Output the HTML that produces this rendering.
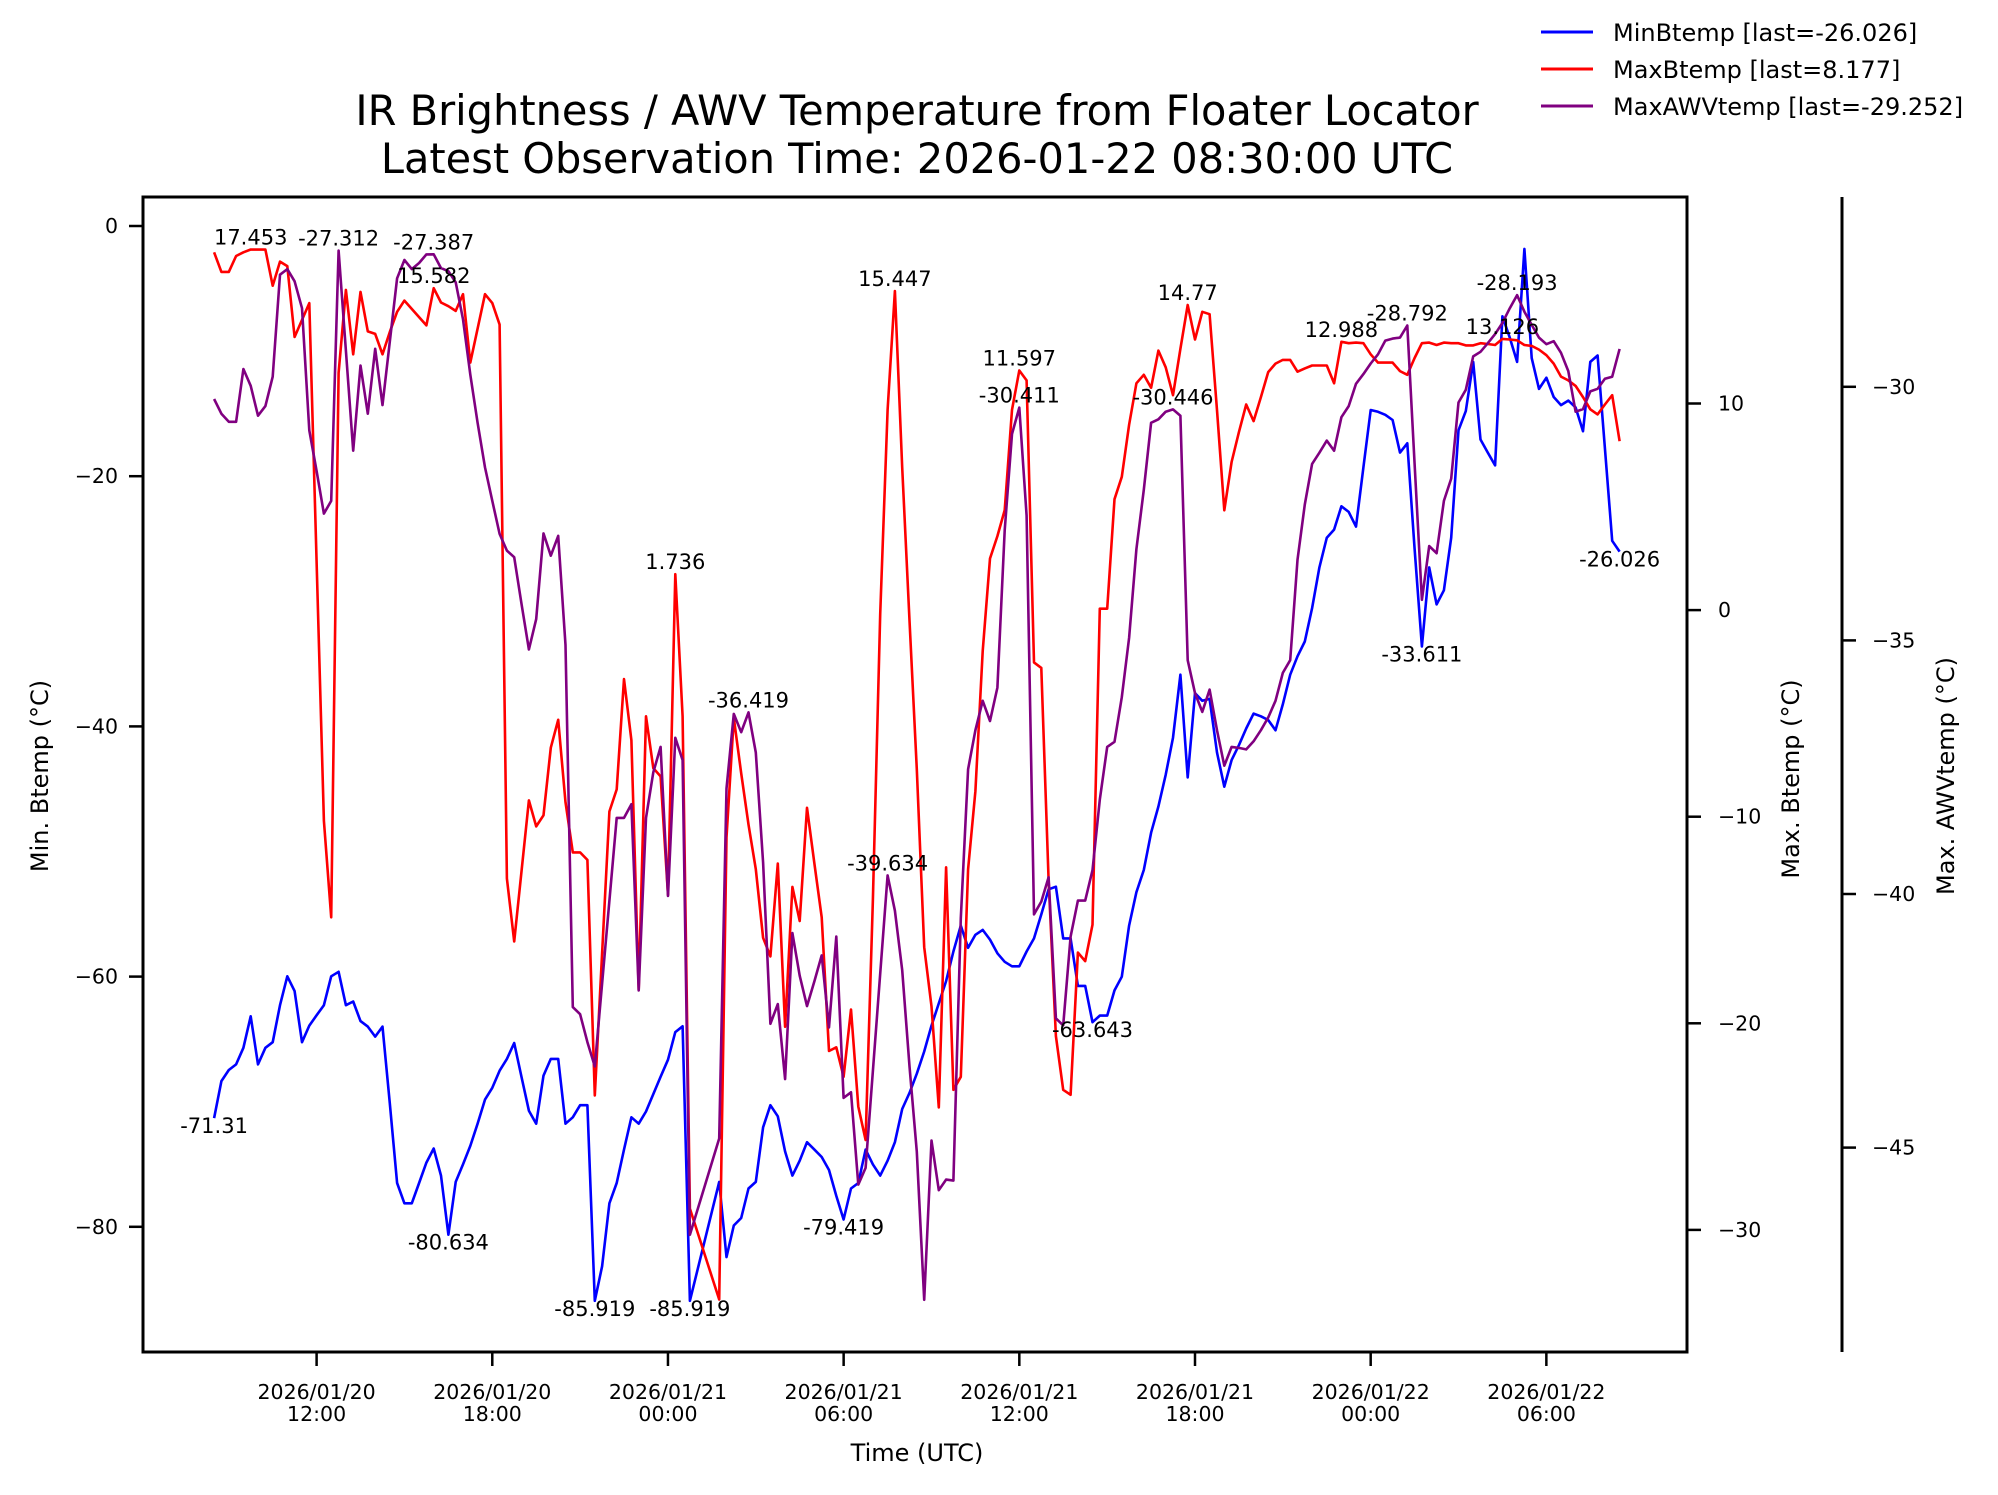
<!DOCTYPE html>
<html><head><meta charset="utf-8"><title>IR Brightness / AWV Temperature</title>
<style>
html,body{margin:0;padding:0;background:#fff;}
svg{display:block;font-family:"DejaVu Sans","Liberation Sans",sans-serif;}
</style></head>
<body>
<svg id="chart" xmlns="http://www.w3.org/2000/svg" width="1998" height="1495" viewBox="0 0 1998 1495">
<rect x="0" y="0" width="1998" height="1495" fill="#fff"/>
<g font-size="41.5" text-anchor="middle" fill="#000">
<text x="917" y="125">IR Brightness / AWV Temperature from Floater Locator</text>
<text x="917" y="173">Latest Observation Time: 2026-01-22 08:30:00 UTC</text>
</g>
<g id="series"></g>
<g id="annots" font-size="21" text-anchor="middle" fill="#000"></g>
<g id="axes"></g>
<g font-size="24" fill="#000">
<g><line x1="1541" y1="32" x2="1593" y2="32" stroke="#0000ff" stroke-width="3"/><text x="1613" y="41">MinBtemp [last=-26.026]</text></g>
<g><line x1="1541" y1="69" x2="1593" y2="69" stroke="#ff0000" stroke-width="3"/><text x="1613" y="78">MaxBtemp [last=8.177]</text></g>
<g><line x1="1541" y1="106" x2="1593" y2="106" stroke="#800080" stroke-width="3"/><text x="1613" y="115">MaxAWVtemp [last=-29.252]</text></g>
</g>
</svg>
<script>
// Observation slots: 15-minute steps starting 2026-01-20 08:30 UTC (slot 0)
const startHour = 8.5;
const minSlot = [0,1,2,3,4,5,6,7,8,9,10,11,12,13,14,15,16,17,18,19,20,21,22,23,24,25,26,27,28,29,30,31,32,33,34,35,36,37,38,39,40,41,42,43,44,45,46,47,48,49,50,51,52,53,54,55,56,57,58,59,60,61,62,63,64,65,69,70,71,72,73,74,75,76,77,78,79,80,81,82,83,84,85,86,87,88,89,90,91,92,93,94,95,96,97,98,99,100,101,102,103,104,105,106,107,108,109,110,111,112,113,114,115,116,117,118,119,120,121,122,123,124,125,126,127,128,129,130,131,132,133,134,135,136,137,138,139,140,141,142,143,144,145,146,147,148,149,150,151,152,153,154,155,156,157,158,159,160,161,162,163,164,165,166,167,168,169,170,171,172,173,174,175,176,177,178,179,180,181,182,183,184,185,186,187,188,189,191,192];
const minVal = [-71.31,-68.35,-67.47,-67.02,-65.69,-63.17,-67.02,-65.69,-65.24,-62.29,-59.98,-61.16,-65.24,-63.92,-63.09,-62.29,-59.98,-59.62,-62.29,-61.99,-63.56,-64.0,-64.8,-64.0,-70.13,-76.5,-78.12,-78.12,-76.5,-74.87,-73.74,-75.91,-80.634,-76.41,-75.01,-73.53,-71.76,-69.83,-68.89,-67.52,-66.58,-65.31,-68.06,-70.72,-71.76,-67.91,-66.58,-66.58,-71.76,-71.25,-70.28,-70.28,-85.919,-83.16,-78.12,-76.5,-73.83,-71.25,-71.76,-70.78,-69.39,-68.0,-66.64,-64.44,-63.97,-85.919,-76.41,-82.42,-79.9,-79.3,-76.94,-76.41,-72.05,-70.28,-71.17,-73.98,-75.91,-74.72,-73.24,-73.83,-74.42,-75.46,-77.53,-79.419,-76.94,-76.5,-73.83,-75.01,-75.91,-74.72,-73.24,-70.58,-69.3,-67.76,-65.99,-63.92,-62.14,-60.36,-57.99,-55.92,-57.7,-56.66,-56.27,-57.04,-58.14,-58.82,-59.18,-59.18,-57.99,-56.95,-55.03,-53.02,-52.81,-56.95,-56.95,-60.74,-60.74,-63.643,-63.12,-63.12,-61.1,-60.01,-55.92,-53.25,-51.48,-48.5,-46.4,-43.87,-40.9,-35.87,-44.08,-37.35,-37.95,-37.8,-42.09,-44.82,-42.69,-41.5,-40.17,-38.98,-39.19,-39.49,-40.31,-38.24,-35.87,-34.4,-33.21,-30.54,-27.29,-24.92,-24.27,-22.41,-22.85,-24.03,-19.3,-14.71,-14.85,-15.09,-15.51,-18.11,-17.37,-25.81,-33.611,-27.29,-30.25,-29.12,-24.92,-16.33,-14.8,-10.86,-17.07,-18.11,-19.14,-7.22,-8.93,-10.86,-1.83,-10.56,-13.02,-12.13,-13.67,-14.32,-13.96,-14.5,-16.4,-10.86,-10.35,-25.16,-26.026];
const maxSlot = [0,1,2,3,4,5,6,7,8,9,10,11,13,15,16,17,18,19,20,21,22,23,24,25,26,29,30,31,32,33,34,35,37,38,39,40,41,43,44,45,46,47,48,49,50,51,52,54,55,56,57,58,59,60,61,62,63,64,65,69,70,71,72,73,74,75,76,77,78,79,80,81,82,83,84,85,86,87,88,89,90,91,92,93,94,95,96,97,98,99,100,101,102,103,104,105,106,107,108,109,110,111,112,113,114,115,116,117,118,119,120,121,122,123,124,125,126,127,128,129,130,131,132,133,134,135,136,137,138,139,140,141,142,143,144,145,146,147,148,149,150,151,152,153,154,155,156,157,158,159,160,161,162,163,164,165,166,167,168,169,170,171,172,173,174,175,176,177,178,179,180,181,182,183,184,185,186,187,188,189,190,191,192];
const maxVal = [17.32,16.37,16.37,17.14,17.32,17.453,17.45,17.45,15.7,16.87,16.65,13.22,14.86,-10.2,-14.87,11.48,15.5,12.38,15.4,13.49,13.37,12.38,13.46,14.44,14.98,13.78,15.582,14.89,14.71,14.48,15.29,11.98,15.29,14.86,13.82,-12.99,-16.04,-9.21,-10.47,-9.93,-6.66,-5.31,-9.3,-11.73,-11.73,-12.09,-23.49,-9.75,-8.68,-3.34,-6.3,-18.38,-5.14,-7.65,-8.05,-13.79,1.736,-5.14,-28.97,-33.37,-11.0,-5.22,-7.9,-10.38,-12.54,-15.86,-16.76,-12.27,-20.17,-13.4,-15.05,-9.57,-12.27,-14.87,-21.34,-21.16,-22.59,-19.33,-24.03,-25.65,-14.0,-0.2,9.69,15.447,6.9,-0.5,-7.7,-16.31,-19.18,-24.07,-12.45,-23.22,-22.59,-12.54,-8.76,-1.99,2.5,3.58,4.84,9.69,11.597,11.12,-2.53,-2.8,-13.07,-20.62,-23.22,-23.46,-16.58,-16.99,-15.23,0.07,0.07,5.37,6.45,8.97,10.98,11.39,10.76,12.56,11.75,10.4,12.65,14.77,13.1,14.44,14.32,9.68,4.83,7.17,8.61,9.95,9.15,10.31,11.52,11.93,12.11,12.11,11.54,11.7,11.84,11.84,11.84,10.98,12.988,12.92,12.95,12.92,12.38,11.98,11.98,11.98,11.57,11.39,12.2,12.92,12.95,12.83,12.95,12.92,12.92,12.81,12.81,12.92,12.88,12.83,13.126,13.1,13.06,12.83,12.79,12.61,12.34,11.93,11.3,11.12,10.85,10.31,9.72,9.47,9.95,10.4,8.177];
const awvSlot = [0,1,2,3,4,5,6,7,8,9,10,11,12,13,14,15,16,17,19,20,21,22,23,25,26,27,28,29,30,31,32,33,34,35,36,37,38,39,40,41,42,43,44,45,46,47,48,49,50,51,52,55,56,57,58,59,60,61,62,63,64,65,69,70,71,72,73,74,75,76,77,78,79,80,81,82,83,84,85,86,87,88,89,92,93,94,95,96,97,98,99,100,101,102,103,104,105,106,107,108,109,110,111,112,113,114,115,116,117,118,119,120,121,122,123,124,125,126,127,128,129,130,131,132,133,134,135,136,137,138,139,140,141,142,143,144,145,146,147,148,149,150,151,152,153,154,155,156,157,158,159,160,161,162,163,164,165,166,167,168,169,170,171,172,173,174,175,176,177,178,179,180,181,182,183,184,185,186,187,188,189,190,191,192];
const awvVal = [-30.24,-30.53,-30.69,-30.69,-29.65,-29.98,-30.57,-30.38,-29.8,-27.79,-27.68,-27.92,-28.45,-30.86,-31.66,-32.5,-32.25,-27.312,-31.26,-29.58,-30.53,-29.25,-30.36,-27.86,-27.5,-27.68,-27.56,-27.39,-27.387,-27.66,-27.72,-27.94,-28.67,-29.76,-30.71,-31.59,-32.25,-32.9,-33.23,-33.36,-34.29,-35.18,-34.58,-32.89,-33.33,-32.94,-35.09,-42.23,-42.37,-42.92,-43.4,-38.5,-38.5,-38.23,-41.9,-38.5,-37.6,-37.1,-40.04,-36.92,-37.36,-46.72,-44.82,-37.92,-36.45,-36.81,-36.419,-37.21,-39.38,-42.56,-42.17,-43.65,-40.77,-41.61,-42.21,-41.72,-41.21,-42.63,-40.84,-44.02,-43.91,-45.73,-45.4,-39.634,-40.33,-41.5,-43.4,-45.08,-48.0,-44.86,-45.84,-45.63,-45.65,-40.48,-37.54,-36.77,-36.19,-36.59,-35.93,-32.83,-30.93,-30.411,-32.54,-40.4,-40.15,-39.67,-42.45,-42.59,-40.84,-40.13,-40.13,-39.53,-38.14,-37.1,-37.0,-36.12,-34.95,-33.2,-32.03,-30.71,-30.64,-30.49,-30.446,-30.57,-35.39,-36.04,-36.41,-35.97,-36.77,-37.47,-37.1,-37.12,-37.15,-36.99,-36.77,-36.52,-36.19,-35.64,-35.39,-33.41,-32.32,-31.52,-31.3,-31.06,-31.26,-30.6,-30.38,-29.94,-29.75,-29.54,-29.36,-29.09,-29.05,-29.03,-28.792,-31.52,-34.2,-33.14,-33.28,-32.25,-31.81,-30.31,-30.06,-29.4,-29.31,-29.14,-28.96,-28.74,-28.45,-28.193,-28.52,-28.78,-29.03,-29.16,-29.1,-29.33,-29.69,-30.49,-30.44,-30.09,-30.04,-29.84,-29.8,-29.252];

// Annotations: series, slot, printed text
const annSeries = ['min','max','awv','awv','max','min','min','min','max','awv','min','awv','max','max','awv','min','max','awv','max','awv','min','max','awv','min'];
const annSlot   = [0,5,17,30,30,32,52,65,63,73,86,92,93,110,110,120,133,131,154,163,165,176,178,192];
const annText   = ['-71.31','17.453','-27.312','-27.387','15.582','-80.634','-85.919','-85.919','1.736','-36.419','-79.419','-39.634','15.447','11.597','-30.411','-63.643','14.77','-30.446','12.988','-28.792','-33.611','13.126','-28.193','-26.026'];

const xTickHours = [12,18,24,30,36,42,48,54];
const xTickLine1 = ['2026/01/20','2026/01/20','2026/01/21','2026/01/21','2026/01/21','2026/01/21','2026/01/22','2026/01/22'];
const xTickLine2 = ['12:00','18:00','00:00','06:00','12:00','18:00','00:00','06:00'];
const leftTicks = [0,-20,-40,-60,-80];
const rightTicks = [10,0,-10,-20,-30];
const awvTicks = [-30,-35,-40,-45];

const NS = 'http://www.w3.org/2000/svg';
const L = 143, R = 1687, T = 197, B = 1352;
function xOfHour(h){ return 316.6 + (h - 12) * 29.28; }
function xOfSlot(s){ return xOfHour(startHour + s * 0.25); }
function yMin(v){ return 226 - v * 12.51; }
function yMax(v){ return 610.1 - v * 20.66; }
function yAwv(v){ return 386.8 - (v + 30) * 50.72; }
function mk(tag, attrs, parent){
  const e = document.createElementNS(NS, tag);
  for (const k in attrs) e.setAttribute(k, attrs[k]);
  parent.appendChild(e);
  return e;
}
const seriesG = document.getElementById('series');
function drawLine(slots, vals, yf, color, name){
  const pts = slots.map((s, i) => xOfSlot(s).toFixed(1) + ',' + yf(vals[i]).toFixed(1)).join(' ');
  const pl = mk('polyline', {points: pts, fill: 'none', stroke: color, 'stroke-width': 2.6, 'stroke-linejoin': 'round'}, seriesG);
  
  
}
drawLine(minSlot, minVal, yMin, '#0000ff', 'minbtemp-line');
drawLine(maxSlot, maxVal, yMax, '#ff0000', 'maxbtemp-line');
drawLine(awvSlot, awvVal, yAwv, '#800080', 'maxawvtemp-line');

const annG = document.getElementById('annots');
const seriesMap = {min: [minSlot, minVal, yMin], max: [maxSlot, maxVal, yMax], awv: [awvSlot, awvVal, yAwv]};
annText.forEach((txt, k) => {
  const sm = seriesMap[annSeries[k]];
  const idx = sm[0].indexOf(annSlot[k]);
  const y = sm[2](sm[1][idx]);
  const below = annSeries[k] === 'min';
  const t = mk('text', {x: xOfSlot(annSlot[k]).toFixed(1), y: (below ? y + 15 : y - 5).toFixed(1)}, annG);
  t.textContent = txt;
  
  
});

const ax = document.getElementById('axes');
const frame = mk('rect', {x: L, y: T, width: R - L, height: B - T, fill: 'none', stroke: '#000', 'stroke-width': 3}, ax);


const sp3 = mk('line', {x1: 1842, y1: T, x2: 1842, y2: B, stroke: '#000', 'stroke-width': 3}, ax);



xTickHours.forEach((h, i) => {
  const x = xOfHour(h);
  const tk = mk('line', {x1: x, y1: B, x2: x, y2: B + 14, stroke: '#000', 'stroke-width': 2.5}, ax);
  
  
  const t = mk('text', {x: x, y: 1399, 'font-size': 20.5, 'text-anchor': 'middle'}, ax);
  
  
  const a = mk('tspan', {x: x, dy: 0}, t); a.textContent = xTickLine1[i];
  const b = mk('tspan', {x: x, dy: 22}, t); b.textContent = xTickLine2[i];
});
leftTicks.forEach(v => {
  const y = yMin(v);
  const tk = mk('line', {x1: L - 14, y1: y, x2: L, y2: y, stroke: '#000', 'stroke-width': 2.5}, ax);
  
  
  const t = mk('text', {x: 118, y: y + 7, 'font-size': 20.5, 'text-anchor': 'end'}, ax);
  t.textContent = String(v).replace('-', '\u2212');
  
  
});
rightTicks.forEach(v => {
  const y = yMax(v);
  const tk = mk('line', {x1: R, y1: y, x2: R + 14, y2: y, stroke: '#000', 'stroke-width': 2.5}, ax);
  
  
  const t = mk('text', {x: 1718, y: y + 7, 'font-size': 20.5}, ax);
  t.textContent = String(v).replace('-', '\u2212');
  
  
});
awvTicks.forEach(v => {
  const y = yAwv(v);
  const tk = mk('line', {x1: 1842, y1: y, x2: 1856, y2: y, stroke: '#000', 'stroke-width': 2.5}, ax);
  
  
  const t = mk('text', {x: 1872, y: y + 7, 'font-size': 20.5}, ax);
  t.textContent = String(v).replace('-', '\u2212');
  
  
});
const xl = mk('text', {x: 917, y: 1461, 'font-size': 24, 'text-anchor': 'middle'}, ax);
xl.textContent = 'Time (UTC)';


const yl1 = mk('text', {x: 0, y: 0, 'font-size': 24, 'text-anchor': 'middle', transform: 'translate(48,776) rotate(-90)'}, ax);
yl1.textContent = 'Min. Btemp (°C)';


const yl2 = mk('text', {x: 0, y: 0, 'font-size': 24, 'text-anchor': 'middle', transform: 'translate(1799,779) rotate(-90)'}, ax);
yl2.textContent = 'Max. Btemp (°C)';


const yl3 = mk('text', {x: 0, y: 0, 'font-size': 24, 'text-anchor': 'middle', transform: 'translate(1954,776) rotate(-90)'}, ax);
yl3.textContent = 'Max. AWVtemp (°C)';


</script>
</body></html>
